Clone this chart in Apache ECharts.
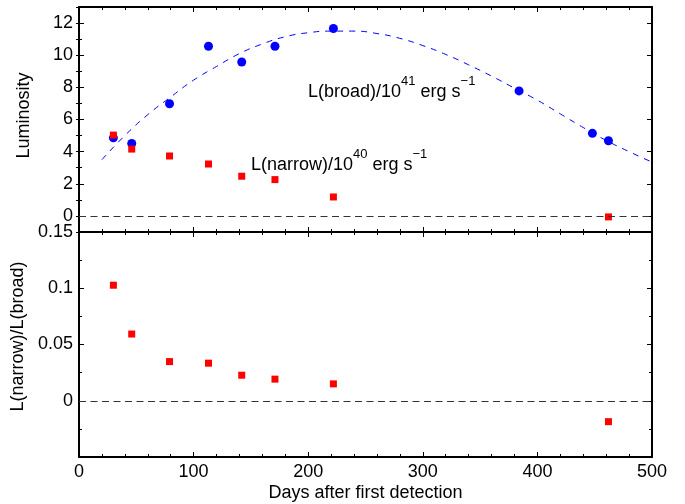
<!DOCTYPE html>
<html><head><meta charset="utf-8">
<script src="https://cdn.jsdelivr.net/npm/echarts@6/dist/echarts.min.js"></script>
<style>html,body{margin:0;padding:0;background:#fff}#c{width:685px;height:504px}</style>
</head><body><div id="c"></div>
<script>
// ---- data ----
const broadDays = [30, 46, 79, 113, 142, 171, 222, 384, 448, 462];
const broadLum = [4.86, 4.51, 6.98, 10.56, 9.58, 10.56, 11.66, 7.78, 5.14, 4.68];
const narrowDays = [30, 46, 79, 113, 142, 171, 222, 462];
const narrowLum = [5.03, 4.16, 3.73, 3.23, 2.47, 2.26, 1.18, -0.06];
const ratioVals = [0.1027, 0.0593, 0.0348, 0.0334, 0.0227, 0.0192, 0.0150, -0.0186];
const fitDays = [20, 40, 60, 80, 100, 120, 140, 160, 180, 200, 220, 240, 260, 280, 300, 320, 340, 360, 380, 400, 420, 440, 460, 480, 500];
const fitLum = [3.5, 5.0, 6.3, 7.4, 8.45, 9.3, 10.1, 10.7, 11.15, 11.4, 11.5, 11.5, 11.35, 11.05, 10.6, 10.05, 9.4, 8.7, 7.95, 7.2, 6.35, 5.5, 4.7, 4.0, 3.35];
const xTicks = [0, 100, 200, 300, 400, 500];
const lumTicks = [0, 2, 4, 6, 8, 10, 12];
const ratioTicks = [0, 0.05, 0.1, 0.15];
const zeroLine = [0];

// ---- chart ----
const FONT = 'Liberation Sans';
const lineAx = {show: true, onZero: false, lineStyle: {color: '#000', width: 2}};
const zip = (a, b) => a.map((v, i) => [v, b[i]]);

function xAx(grid, pos, labels, name) {
  return {
    type: 'value', gridIndex: grid, position: pos, min: 0, max: 500, interval: 100,
    axisLine: lineAx,
    axisTick: {inside: true, length: 5, lineStyle: {color: '#000', width: 1}},
    minorTick: {show: true, splitNumber: 5, length: 3, lineStyle: {color: '#000', width: 1}},
    splitLine: {show: false},
    axisLabel: {show: labels, customValues: xTicks, margin: 6, fontSize: 18, color: '#000', fontFamily: FONT},
    name: name || '', nameLocation: 'middle', nameGap: 27,
    nameTextStyle: {fontSize: 18, color: '#000', fontFamily: FONT}
  };
}
function lumAx(pos, labels, name) {
  return {
    type: 'value', gridIndex: 0, position: pos, min: -1, max: 13,
    axisLine: lineAx,
    axisTick: {inside: true, length: 5, customValues: lumTicks, lineStyle: {color: '#000', width: 1}},
    splitLine: {show: false},
    axisLabel: {show: labels, customValues: lumTicks, margin: 6, fontSize: 18, color: '#000', fontFamily: FONT},
    name: name || '', nameLocation: 'middle', nameGap: 46,
    nameTextStyle: {fontSize: 18, color: '#000', fontFamily: FONT, padding: [0, 0, 0, 8]}
  };
}
function lumMinor(pos) {
  return {
    type: 'value', gridIndex: 0, position: pos, min: -1, max: 13, interval: 1,
    axisLine: {show: false},
    axisTick: {inside: true, length: 3, lineStyle: {color: '#000', width: 1}},
    splitLine: {show: false}, axisLabel: {show: false}
  };
}
function ratioAx(pos, labels, name) {
  return {
    type: 'value', gridIndex: 1, position: pos, min: -0.05, max: 0.15, interval: 0.05,
    axisLine: lineAx,
    axisTick: {inside: true, length: 5, lineStyle: {color: '#000', width: 1}},
    minorTick: {show: true, splitNumber: 2, length: 3, lineStyle: {color: '#000', width: 1}},
    splitLine: {show: false},
    axisLabel: {show: labels, customValues: ratioTicks, margin: 6, fontSize: 18, color: '#000', fontFamily: FONT},
    name: name || '', nameLocation: 'middle', nameGap: 46,
    nameTextStyle: {fontSize: 18, color: '#000', fontFamily: FONT, padding: [0, 0, 0, 16]}
  };
}
const zeroMark = {
  silent: true, symbol: 'none', label: {show: false},
  lineStyle: {color: '#333', width: 1, type: [7, 4.5]},
  data: zeroLine.map(v => ({yAxis: v}))
};

const option = {
  animation: false,
  backgroundColor: '#fff',
  textStyle: {fontFamily: FONT},
  grid: [
    {left: 79, right: 33, top: 7, height: 225},
    {left: 79, right: 33, top: 232, height: 225}
  ],
  xAxis: [
    xAx(0, 'bottom', false), xAx(0, 'top', false),
    xAx(1, 'bottom', true, 'Days after first detection'), xAx(1, 'top', false)
  ],
  yAxis: [
    lumAx('left', true, 'Luminosity'), lumAx('right', false),
    lumMinor('left'), lumMinor('right'),
    ratioAx('left', true, 'L(narrow)/L(broad)'), ratioAx('right', false)
  ],
  series: [
    {type: 'line', xAxisIndex: 0, yAxisIndex: 0, data: zip(fitDays, fitLum), smooth: true,
     showSymbol: false, clip: true, z: 1,
     lineStyle: {color: '#0000ff', width: 1, type: [6, 6]}, markLine: zeroMark},
    {type: 'scatter', xAxisIndex: 0, yAxisIndex: 0, data: zip(broadDays, broadLum),
     symbol: 'circle', symbolSize: 9, itemStyle: {color: '#0000ff', opacity: 1}, z: 3},
    {type: 'scatter', xAxisIndex: 0, yAxisIndex: 0, data: zip(narrowDays, narrowLum),
     symbol: 'rect', symbolSize: 7, itemStyle: {color: '#ff0000', opacity: 1}, z: 4},
    {type: 'scatter', xAxisIndex: 2, yAxisIndex: 4, data: zip(narrowDays, ratioVals),
     symbol: 'rect', symbolSize: 7, itemStyle: {color: '#ff0000', opacity: 1}, z: 4, markLine: zeroMark}
  ],
  graphic: [
    {type: 'text', left: 308, top: 75, style: {
      text: '{a|L(broad)/10}{s|41}{a| erg s}{s|\u22121}',
      rich: {
        a: {fontSize: 18, fontFamily: FONT, fill: '#000', lineHeight: 26, verticalAlign: 'bottom'},
        s: {fontSize: 13, fontFamily: FONT, fill: '#000', lineHeight: 16, verticalAlign: 'top'}
      }}},
    {type: 'text', left: 251, top: 148, style: {
      text: '{a|L(narrow)/10}{s|40}{a| erg s}{s|\u22121}',
      rich: {
        a: {fontSize: 18, fontFamily: FONT, fill: '#000', lineHeight: 26, verticalAlign: 'bottom'},
        s: {fontSize: 13, fontFamily: FONT, fill: '#000', lineHeight: 16, verticalAlign: 'top'}
      }}}
  ]
};
const chart = echarts.init(document.getElementById('c'), null, {renderer: 'canvas'});
chart.setOption(option);
</script>
</body></html>
